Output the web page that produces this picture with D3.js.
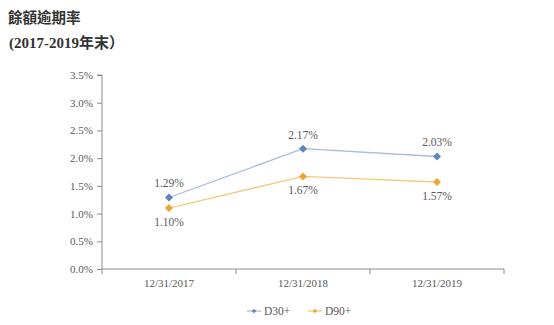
<!DOCTYPE html>
<html>
<head>
<meta charset="utf-8">
<script src="https://cdn.jsdelivr.net/npm/d3@7/dist/d3.min.js"></script>
<style>
  html, body { margin: 0; padding: 0; background: #fff; }
  svg { display: block; }
  .serif { font-family: "Liberation Serif", "Times New Roman", Times, "DejaVu Serif", serif; }
  .cjk { font-family: "Noto Sans CJK TC", "Noto Sans CJK SC", sans-serif; }
  .mixed { font-family: "Liberation Serif", "Times New Roman", "Noto Sans CJK TC", serif; }
</style>
</head>
<body>
<svg id="chart" width="554" height="325"></svg>
<script>
// Overdue balance ratio by year-end
const categories = ["12/31/2017", "12/31/2018", "12/31/2019"];
const d30Values = [1.29, 2.17, 2.03];
const d90Values = [1.10, 1.67, 1.57];
const seriesNames = ["D30+", "D90+"];
const yTicks = [0, 0.5, 1.0, 1.5, 2.0, 2.5, 3.0, 3.5];

const series = [
  { name: seriesNames[0], values: d30Values, line: "#a7bbdf", mark: "#5f82c0", labelPos: "above" },
  { name: seriesNames[1], values: d90Values, line: "#f6c97e", mark: "#efa52c", labelPos: "below" }
];

const svg = d3.select("#chart");
const textColor = "#595959";
const axisColor = "#8c8c8c";

// Title
svg.append("text").attr("class", "cjk").attr("x", 8).attr("y", 23)
  .attr("font-weight", "bold").attr("font-size", 14.5).attr("fill", "#333").text("餘額逾期率");
svg.append("text").attr("class", "mixed").attr("x", 9).attr("y", 48)
  .attr("font-weight", "bold").attr("font-size", 15).attr("fill", "#333")
  .text("(2017-2019年末）");

const plotLeft = 102, plotRight = 504, plotTop = 75, plotBottom = 269;

const x = d3.scaleBand().domain(categories).range([plotLeft, plotRight]);
const y = d3.scaleLinear().domain([0, 3.5]).range([plotBottom, plotTop]);

// Y axis
const yAxis = svg.append("g").attr("transform", `translate(${plotLeft},0)`)
  .call(d3.axisLeft(y).tickValues(yTicks).tickSize(5).tickPadding(4)
    .tickFormat(d => d.toFixed(1) + "%"));
yAxis.attr("font-family", null);
yAxis.select(".domain").attr("stroke", axisColor).attr("d", `M-5,${plotTop}H0V${plotBottom}`);
yAxis.selectAll(".tick line").attr("stroke", axisColor);
yAxis.selectAll(".tick text").attr("class", "serif").attr("font-size", 11).attr("fill", textColor);

// X axis with boundary ticks between categories
const xAxis = svg.append("g").attr("transform", `translate(0,${plotBottom})`);
xAxis.append("line").attr("x1", plotLeft).attr("x2", plotRight).attr("stroke", axisColor);
const bounds = categories.map(c => x(c)).concat([x(categories[categories.length - 1]) + x.bandwidth()]);
xAxis.selectAll(".bt").data(bounds).join("line")
  .attr("x1", d => d).attr("x2", d => d).attr("y1", 0).attr("y2", 5).attr("stroke", axisColor);
xAxis.selectAll(".cl").data(categories).join("text")
  .attr("class", "serif")
  .attr("x", d => x(d) + x.bandwidth() / 2).attr("y", 18)
  .attr("text-anchor", "middle").attr("font-size", 11)
  .attr("fill", textColor).text(d => d);

const cx = c => x(c) + x.bandwidth() / 2;
// square markers rotated 45 degrees
const marker = d3.symbol().type(d3.symbolSquare).size(32);

series.forEach(s => {
  const pts = categories.map((c, i) => ({ c, v: s.values[i] }));
  svg.append("path").datum(pts)
    .attr("fill", "none").attr("stroke", s.line).attr("stroke-width", 1.3)
    .attr("d", d3.line().x(d => cx(d.c)).y(d => y(d.v)));
  svg.selectAll(null).data(pts).join("path")
    .attr("transform", d => `translate(${cx(d.c)},${y(d.v)}) rotate(45)`)
    .attr("d", marker).attr("fill", s.mark);
  svg.selectAll(null).data(pts).join("text")
    .attr("class", "serif")
    .attr("x", d => cx(d.c))
    .attr("y", d => y(d.v) + (s.labelPos === "above" ? -10 : 18))
    .attr("text-anchor", "middle").attr("font-size", 11.5)
    .attr("fill", textColor).text(d => d.v.toFixed(2) + "%");
});

// Legend
const legendX = [247, 308];
series.forEach((s, i) => {
  const g = svg.append("g").attr("transform", `translate(${legendX[i]},311)`);
  g.append("line").attr("x1", 0).attr("x2", 14).attr("stroke", s.line).attr("stroke-width", 1.3);
  g.append("path").attr("transform", "translate(7,0) rotate(45)")
    .attr("d", d3.symbol().type(d3.symbolSquare).size(10)).attr("fill", s.mark);
  g.append("text").attr("class", "serif").attr("x", 17).attr("y", 4).attr("font-size", 11.5)
    .attr("fill", textColor).text(s.name);
});
</script>
</body>
</html>
